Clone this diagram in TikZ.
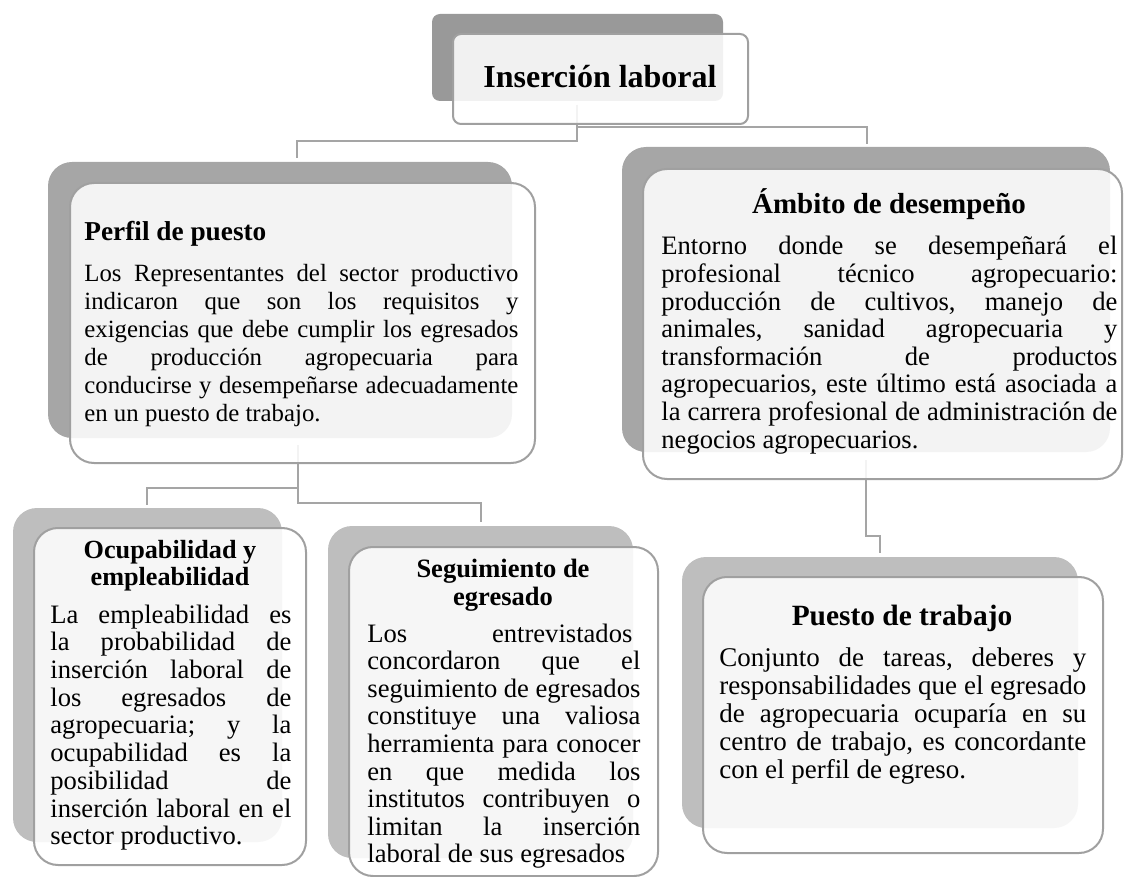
\documentclass[tikz,border=0pt]{standalone}
\usepackage{fontspec}
\setmainfont{Liberation Serif}
\tikzstyle{diagram} = [x = 0.5pt, y = -0.5pt]
\definecolor{topBackColor}{RGB}{153,153,153}
\definecolor{midBackColor}{RGB}{166,166,166}
\definecolor{lowBackColor}{RGB}{190,190,190}
\definecolor{edgeColor}{RGB}{160,160,160}
\definecolor{lineColor}{RGB}{165,165,165}
\tikzstyle{cardFront} = [draw=edgeColor, line width=1pt, fill=white, fill opacity=0.87]
\tikzstyle{connectorLine} = [draw=lineColor, line width=1pt]
\tikzstyle{cardTitle} = [inner sep=0, anchor=base]
\tikzstyle{cardText} = [inner sep=0, anchor=base west]
\newcommand{\card}[6]{\fill [#1, rounded corners = #2] (#3) rectangle (#4); \filldraw [cardFront, rounded corners = #2] (#5) rectangle (#6);}
\newcommand{\titleText}[4]{\parbox[t]{#1}{\centering\fontsize{#2}{#3}\selectfont\bfseries #4}}
\newcommand{\bodyText}[4]{\parbox[t]{#1}{\fontsize{#2}{#3}\selectfont\frenchspacing\spaceskip=.25em plus 1fil minus .06em\relax #4}}
\newcommand{\fullLine}[1]{\hbox to \linewidth{#1}}
\newcommand{\lastLine}[1]{\hbox{#1}}
\begin{document}
\begin{tikzpicture}[diagram]
  \useasboundingbox (0,0) rectangle (1125,877);

  % connector ends
  \coordinate (insercionFoot) at (577,105);
  \coordinate (perfilTop) at (297,158);
  \coordinate (ambitoTop) at (867,144);
  \coordinate (perfilFoot) at (298,445);
  \coordinate (ocupaTop) at (147,505);
  \coordinate (seguiTop) at (481,522);
  \coordinate (ambitoFoot) at (866,460);
  \coordinate (puestoTop) at (880,553);

  \draw [connectorLine] (insercionFoot) -- ++(0,36) -| (perfilTop);
  \draw [connectorLine] (insercionFoot) -- ++(0,22) -| (ambitoTop);
  \draw [connectorLine] (perfilFoot) -- ++(0,43) -| (ocupaTop);
  \draw [connectorLine] (perfilFoot) -- ++(0,58) -| (seguiTop);
  \draw [connectorLine] (ambitoFoot) -- ++(0,76) -| (puestoTop);

  % cards
  \card{topBackColor}{4pt}{432,14}{723,101}{453,34}{748,124}
  \card{midBackColor}{12pt}{48,162}{512,438}{70,183}{535,463}
  \card{midBackColor}{12pt}{622,147}{1110,452}{643,169}{1122,479}
  \card{lowBackColor}{12pt}{13,508}{282,842}{34,528}{306,865}
  \card{lowBackColor}{12pt}{328,526}{633,858}{349,547}{658,876}
  \card{lowBackColor}{12pt}{682,557}{1078,828}{703,577}{1103,853}

  % texts
  \node [cardTitle] (insercionTitle) at (600,88) {\fontsize{16}{19}\selectfont\bfseries Inserción laboral};

  \node [cardText] (perfilTitle) at (84,241) {\fontsize{13.65}{16}\selectfont\bfseries Perfil de puesto};
  \node [cardText] (perfilText) at (84,282) {\bodyText{217pt}{12.4}{14}{%
    \fullLine{Los Representantes del sector productivo}
    \fullLine{indicaron que son los requisitos y}
    \fullLine{exigencias que debe cumplir los egresados}
    \fullLine{de producción agropecuaria para}
    \fullLine{conducirse y desempeñarse adecuadamente}
    \lastLine{en un puesto de trabajo.}}};

  \node [cardTitle] (ambitoTitle) at (889,214) {\fontsize{14.5}{17}\selectfont\bfseries Ámbito de desempeño};
  \node [cardText] (ambitoText) at (661,255) {\bodyText{228pt}{13.3}{13.8}{%
    \fullLine{Entorno donde se desempeñará el}
    \fullLine{profesional técnico agropecuario:}
    \fullLine{producción de cultivos, manejo de}
    \fullLine{animales, sanidad agropecuaria y}
    \fullLine{transformación de productos}
    \fullLine{agropecuarios, este último está asociada a}
    \fullLine{la carrera profesional de administración de}
    \lastLine{negocios agropecuarios.}}};

  \node [cardTitle] (ocupaTitle) at (170,558) {\titleText{200pt}{13.1}{13.5}{Ocupabilidad y\\empleabilidad}};
  \node [cardText] (ocupaText) at (50,623) {\bodyText{120.5pt}{13.3}{13.87}{%
    \fullLine{La empleabilidad es}
    \fullLine{la probabilidad de}
    \fullLine{inserción laboral de}
    \fullLine{los egresados de}
    \fullLine{agropecuaria; y la}
    \fullLine{ocupabilidad es la}
    \fullLine{posibilidad de}
    \fullLine{inserción laboral en el}
    \lastLine{sector productivo.}}};

  \node [cardTitle] (seguiTitle) at (503,577) {\titleText{200pt}{13.25}{14}{Seguimiento de\\egresado}};
  \node [cardText] (seguiText) at (367,642) {\bodyText{136.5pt}{13.3}{13.8}{%
    \fullLine{Los entrevistados\kern4pt}
    \fullLine{concordaron que el}
    \fullLine{seguimiento de egresados}
    \fullLine{constituye una valiosa}
    \fullLine{herramienta para conocer}
    \fullLine{en que medida los}
    \fullLine{institutos contribuyen o}
    \fullLine{limitan la inserción}
    \lastLine{laboral de sus egresados}}};

  \node [cardTitle] (puestoTitle) at (902,625) {\fontsize{14.7}{17}\selectfont\bfseries Puesto de trabajo};
  \node [cardText] (puestoText) at (719,666) {\bodyText{183.5pt}{13.5}{14}{%
    \fullLine{Conjunto de tareas, deberes y}
    \fullLine{responsabilidades que el egresado}
    \fullLine{de agropecuaria ocuparía en su}
    \fullLine{centro de trabajo, es concordante}
    \lastLine{con el perfil de egreso.}}};
\end{tikzpicture}
\end{document}
